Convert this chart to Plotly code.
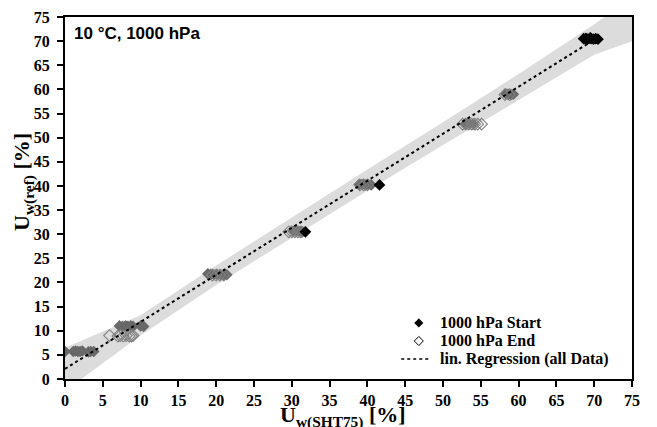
import plotly.graph_objects as go

# Reference humidity vs. SHT75 humidity, 10 °C / 1000 hPa
start_x = [0.0, 1.1, 1.4, 1.7, 2.0, 2.3, 3.1, 3.4, 3.8,
           7.2, 7.6, 8.0, 8.3, 8.7, 9.0, 10.0, 10.4,
           18.9, 19.3, 19.7, 20.1, 20.6, 21.0, 21.4,
           30.2, 30.6, 31.0, 31.4,
           38.9, 39.3, 39.7, 40.1, 40.5,
           53.0, 53.5, 54.0,
           58.3, 58.6, 59.0, 59.3]
start_y = [5.7, 5.7, 5.8, 5.7, 5.7, 5.8, 5.6, 5.7, 5.7,
           11.0, 10.9, 11.0, 10.9, 11.0, 10.9, 11.0, 10.9,
           21.8, 21.7, 21.6, 21.7, 21.6, 21.6, 21.6,
           30.6, 30.6, 30.5, 30.5,
           40.3, 40.3, 40.2, 40.3, 40.2,
           52.9, 52.9, 52.8,
           59.1, 59.0, 58.9, 59.0]

# Start points measured last (plateau at ~70 % plus two late readings)
late_x = [31.8, 41.6,
          68.6, 68.9, 69.1, 69.4, 69.6, 69.9, 70.2, 70.5, 69.0, 69.5]
late_y = [30.5, 40.2,
          70.5, 70.6, 70.4, 70.6, 70.5, 70.4, 70.5, 70.4, 70.3, 70.7]

end_x = [5.9, 7.0, 7.3, 7.7, 8.1, 8.5, 8.8, 9.0,
         19.5, 20.0, 20.5, 21.0,
         29.6, 30.0, 30.4, 30.8, 31.2,
         39.0, 39.5, 40.0,
         52.6, 53.0, 53.4, 53.8, 54.2, 54.6, 55.1,
         58.2, 58.8]
end_y = [9.0, 8.9, 9.0, 8.9, 9.0, 8.9, 8.9, 9.0,
         21.5, 21.5, 21.5, 21.5,
         30.5, 30.5, 30.5, 30.5, 30.5,
         40.2, 40.2, 40.2,
         52.8, 52.8, 52.8, 52.8, 52.8, 52.8, 52.8,
         58.9, 58.9]

# Regression line endpoints (all data)
reg_x = [0.0, 70.0]
reg_y = [2.1, 70.3]

# Confidence band edges
band_x = [0, 10, 20, 30, 40, 50, 60, 70, 75]
band_upper = [6.5, 13.2, 23.5, 33.5, 43.4, 53.2, 63.2, 73.5, 79.0]
band_lower = [-2.5, 9.0, 19.5, 29.3, 39.0, 48.5, 57.8, 67.2, 70.0]

tick_vals = list(range(0, 80, 5))
legend_labels = ["1000 hPa Start", "1000 hPa End", "lin. Regression (all Data)"]
serif = "Liberation Serif"
START_GREY = "#686868"
END_GREY = "#808080"

fig = go.Figure()

fig.add_trace(go.Scatter(
    x=band_x + band_x[::-1], y=band_upper + band_lower[::-1],
    fill="toself", fillcolor="#dcdcdc", line=dict(width=0),
    mode="lines", hoverinfo="skip", showlegend=False))

fig.add_trace(go.Scatter(
    x=start_x, y=start_y, mode="markers", showlegend=False,
    marker=dict(symbol="diamond", size=9, color=START_GREY, line=dict(width=0))))

fig.add_trace(go.Scatter(
    x=end_x, y=end_y, mode="markers", showlegend=False,
    marker=dict(symbol="diamond-open", size=9, color=END_GREY,
                line=dict(width=1.1, color=END_GREY))))

fig.add_trace(go.Scatter(
    x=late_x, y=late_y, mode="markers", showlegend=False,
    marker=dict(symbol="diamond", size=9, color="black", line=dict(width=0))))

fig.add_trace(go.Scatter(
    x=reg_x, y=reg_y, mode="lines", showlegend=False,
    line=dict(color="black", width=2, dash="dot")))

# Key in the lower right, drawn on an overlay axis spanning 0..1
key_rows = [0.155, 0.105, 0.055]
key_sym_x = 0.624
fig.add_trace(go.Scatter(
    x=[key_sym_x], y=[key_rows[0]], xaxis="x2", yaxis="y2", mode="markers",
    showlegend=False, marker=dict(symbol="diamond", size=7, color="black")))
fig.add_trace(go.Scatter(
    x=[key_sym_x], y=[key_rows[1]], xaxis="x2", yaxis="y2", mode="markers",
    showlegend=False, marker=dict(symbol="diamond-open", size=7, color="black",
                                  line=dict(width=1, color="black"))))
fig.add_trace(go.Scatter(
    x=[0.593, 0.643], y=[key_rows[2], key_rows[2]], xaxis="x2", yaxis="y2",
    mode="lines", showlegend=False, line=dict(color="black", width=1.5, dash="dot")))

axis_common = dict(
    range=[0, 75], tickvals=tick_vals, ticks="outside", ticklen=6,
    tickwidth=2, tickcolor="black", showline=True, linecolor="black",
    linewidth=2, mirror=True, showgrid=False, zeroline=False, automargin=False,
    tickfont=dict(family=serif, size=16, color="black", weight="bold"))

annotations = [dict(text="10 °C, 1000 hPa", x=0.012, y=0.985, xref="paper",
                    yref="paper", xanchor="left", yanchor="top", showarrow=False,
                    font=dict(family="Liberation Sans", size=17, color="black",
                              weight="bold")),
               dict(text="U<sub>w(SHT75)</sub> [%]", x=0.49, y=-0.148, xref="paper",
                    yref="paper", xanchor="center", yanchor="bottom", showarrow=False,
                    font=dict(family=serif, size=22, color="black", weight="bold")),
               dict(text="U<sub>w(ref)</sub> [%]", x=-0.072, y=0.545, xref="paper",
                    yref="paper", xanchor="center", yanchor="middle", showarrow=False,
                    textangle=-90,
                    font=dict(family=serif, size=22, color="black", weight="bold"))]
for label, row in zip(legend_labels, key_rows):
    annotations.append(dict(text=label, x=0.657, y=row, xref="paper", yref="paper",
                            xanchor="left", yanchor="middle", showarrow=False,
                            font=dict(family=serif, size=16, color="black",
                                      weight="bold")))

fig.update_layout(
    width=657, height=427,
    margin=dict(l=65, r=25, t=17, b=48),
    plot_bgcolor="white", paper_bgcolor="white",
    showlegend=False,
    xaxis=dict(**axis_common),
    yaxis=dict(**axis_common, ticklabelstandoff=4),
    xaxis2=dict(overlaying="x", range=[0, 1], visible=False),
    yaxis2=dict(overlaying="y", range=[0, 1], visible=False),
    annotations=annotations,
)

fig.write_html("out.html")
